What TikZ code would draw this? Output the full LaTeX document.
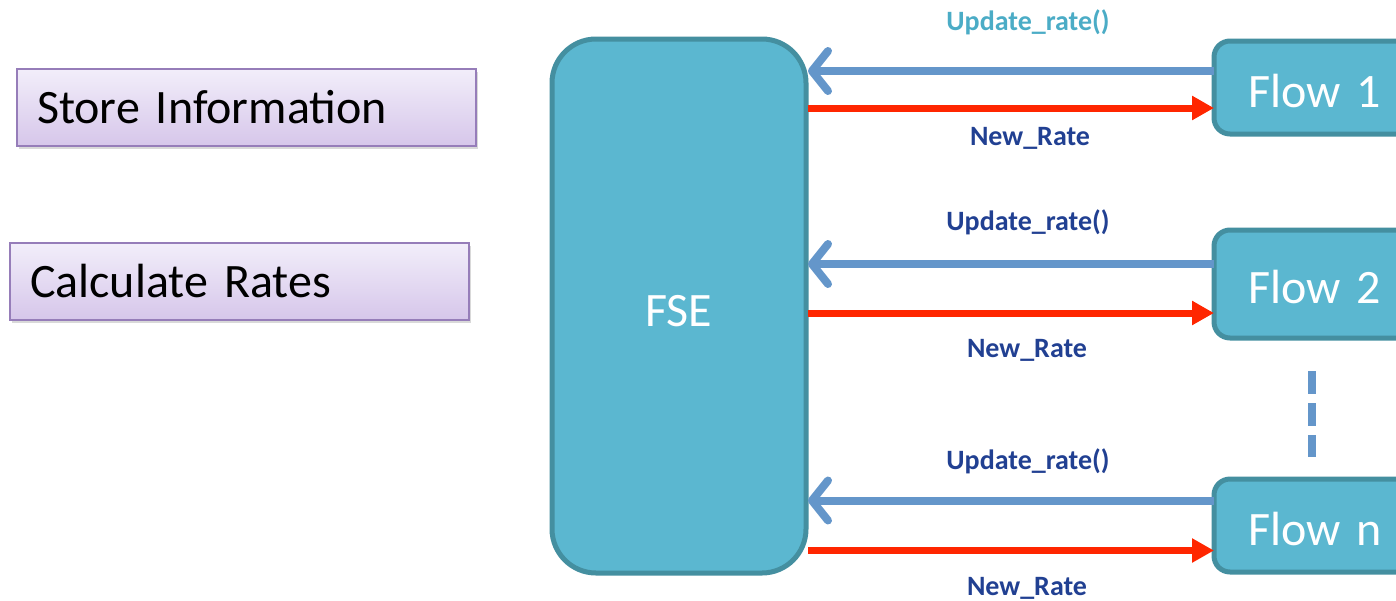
\documentclass[tikz,border=0pt]{standalone}
\usepackage{fontspec}
\setmainfont{Carlito}[WordSpace=0.75]
\usetikzlibrary{arrows.meta,shadows,calc}

\definecolor{lavtop}{RGB}{242,238,250}
\definecolor{lavbot}{RGB}{214,198,234}
\definecolor{lavedge}{RGB}{150,125,185}
\definecolor{tealfill}{RGB}{91,183,208}
\definecolor{tealedge}{RGB}{68,143,160}
\definecolor{updblue}{RGB}{100,150,202}
\definecolor{ratered}{RGB}{255,38,0}
\definecolor{lightlbl}{RGB}{75,172,198}
\definecolor{darklbl}{RGB}{33,64,146}

\tikzset{
  infobox/.style={draw=lavedge, line width=1pt, shading=axis,
    top color=lavtop, bottom color=lavbot, outer sep=0pt,
    drop shadow={shadow xshift=1pt, shadow yshift=-1.5pt, opacity=0.3},
    minimum height=38.5pt, text width=209.5pt, inner xsep=10pt,
    align=left, anchor=north west, font=\fontsize{24}{28}\selectfont},
  engine/.style={draw=tealedge, fill=tealfill, line width=2.5pt,
    rounded corners=22pt, text=white, minimum width=127pt,
    minimum height=267pt, anchor=north west, outer sep=0pt,
    text height=20.4pt, text depth=0pt,
    font=\fontsize{24}{28}\selectfont},
  flowbox/.style={draw=tealedge, fill=tealfill, line width=2.5pt,
    rounded corners=8pt, text=white, minimum width=110pt,
    anchor=north west, text width=76pt, outer sep=0pt,
    text height=19.5pt, text depth=0pt,
    inner xsep=17pt, align=left, font=\fontsize{24}{28}\selectfont},
  upd/.style={draw=updblue, line width=4pt,
    -{Straight Barb[length=8pt, width=20pt, round]}},
  newrate/.style={draw=ratered, line width=3.5pt,
    -{Triangle[length=11pt, width=11.5pt]}},
  lbl/.style={font=\fontsize{14}{16}\selectfont\bfseries, text=darklbl,
    inner sep=0pt},
  dots/.style={draw=updblue, line width=4pt, dash pattern=on 11.5pt off 4.5pt}
}

\begin{document}
\begin{tikzpicture}[x=0.5pt, y=-0.5pt]
  \useasboundingbox (0,0) rectangle (1396,600);
  \clip (0,0) rectangle (1396,600);

  % side notes
  \node[infobox] (store) at (17,69) {Store Information};
  \node[infobox] (calc)  at (10,243) {Calculate Rates};

  % flow-state engine
  \node[engine] (fse) at (552,39) {FSE};

  % flows (running off the right edge)
  \node[flowbox, minimum height=46.5pt] (flow1) at (1214,41)  {Flow 1};
  \node[flowbox, minimum height=54pt]   (flow2) at (1214,230) {Flow 2};
  \node[flowbox, minimum height=46.5pt] (flown) at (1214,479) {Flow n};

  % request / reply pairs
  \foreach \f/\du/\dr in {flow1/16.5/-20.5, flow2/20/-29, flown/25/-25}{
    \coordinate (\f-u) at ([yshift=\du*0.5pt]\f.west);
    \coordinate (\f-r) at ([yshift=\dr*0.5pt]\f.west);
    \draw[upd] (\f-u) -- ([xshift=1pt]fse.east |- \f-u);
    \draw[newrate] ([xshift=1pt]fse.east |- \f-r) -- (\f-r);
  }

  % labels
  \node[lbl, text=lightlbl] (u1) at (1028,22)  {Update\_rate()};
  \node[lbl] (r1) at (1030,138) {New\_Rate};
  \node[lbl] (u2) at (1028,222) {Update\_rate()};
  \node[lbl] (r2) at (1027,350) {New\_Rate};
  \node[lbl] (un) at (1028,461) {Update\_rate()};
  \node[lbl] (rn) at (1027,588) {New\_Rate};

  % ellipsis between flow 2 and flow n
  \coordinate (d0) at (1312,371);
  \coordinate (d1) at (1312,457);
  \draw[dots] (d0) -- (d1);
\end{tikzpicture}
\end{document}
